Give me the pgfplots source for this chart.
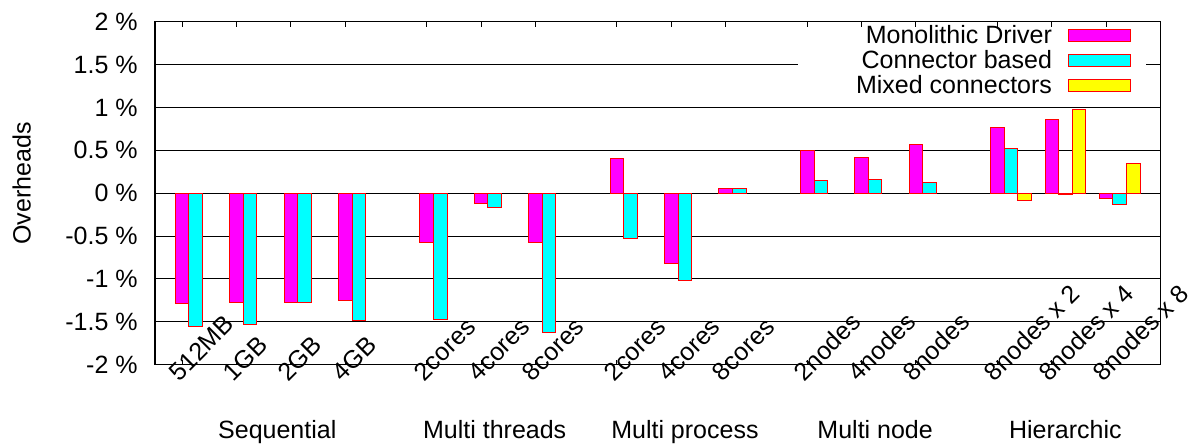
\documentclass[border=0pt]{standalone}
\usepackage{pgfplots}
\pgfplotsset{compat=1.18}
\usepackage{fontspec}
\setmainfont{Liberation Sans}
\definecolor{gmag}{RGB}{255,0,255}
\definecolor{gcyan}{RGB}{0,255,255}
\definecolor{gyellow}{RGB}{255,255,0}
\definecolor{gred}{RGB}{255,0,0}
\pgfplotsset{
  mybar/.style={ybar, bar width=0.25, draw=gred, line width=0.5pt,
    legend image code/.code={\draw[##1] (0pt,-3pt) rectangle (31pt,3pt);}},
}
\begin{document}
\fontsize{12.5}{14}\selectfont
\begin{tikzpicture}
\useasboundingbox (-77.5pt,-40.65pt) rectangle (524.5pt,182.35pt);
\begin{axis}[
  at={(0,0)}, anchor=south west,
  scale only axis, width=502.75pt, height=171.5pt,
  xmin=-0.5, xmax=18, ymin=-2, ymax=2,
  clip=false,
  xtick={0,1,2,3,4.5,5.5,6.5,8,9,10,11.5,12.5,13.5,15,16,17},
  xticklabels={512MB,1GB,2GB,4GB,2cores,4cores,8cores,2cores,4cores,8cores,2nodes,4nodes,8nodes,8nodes x 2,8nodes x 4,8nodes x 8},
  ytick={-2,-1.5,-1,-0.5,0,0.5,1,1.5,2},
  yticklabels={-2 \%,-1.5 \%,-1 \%,-0.5 \%,0 \%,0.5 \%,1 \%,1.5 \%,2 \%},
  ymajorgrids, grid style={black, line width=0.5pt, solid},
  axis line style={black, line width=0.6pt},
  tick align=inside, major tick length=2.5pt, tick style={black, line width=0.5pt},
  xtick pos=both, ytick pos=both,
  xticklabel style={xshift=-1.5pt, yshift=-8.8pt, rotate=45, anchor=base west, inner sep=0pt},
  yticklabel style={inner sep=0pt, xshift=-8.5pt},
  ylabel={Overheads},
  every axis y label/.style={at={(axis description cs:-0.1326,0.528)}, rotate=90, anchor=center},
  legend plot pos=right,
  legend cell align=right,
  legend style={at={(rel axis cs:1,1)}, anchor=north east, xshift=-14.75pt, yshift=-0.4pt,
    draw=none, fill=none, inner sep=0pt, outer sep=0pt, row sep=0pt, column sep=8pt,
    nodes={inner sep=0pt, text height=10.7pt, text depth=1.8pt}},
]
\fill[white] (axis cs:11.33,1.2) rectangle (axis cs:17.74,1.85);
\addplot[mybar, fill=gmag, bar shift=0] coordinates {
 (0,-1.29) (1,-1.276) (2,-1.27) (3,-1.256)
 (4.5,-0.574) (5.5,-0.116) (6.5,-0.57)
 (8,0.407) (9,-0.819) (10,0.058)
 (11.5,0.496) (12.5,0.419) (13.5,0.57)
 (15,0.767) (16,0.86) (17,-0.058)};
\addlegendentry{Monolithic Driver}
\addplot[mybar, fill=gcyan, bar shift=0.25] coordinates {
 (0,-1.55) (1,-1.53) (2,-1.28) (3,-1.485)
 (4.5,-1.477) (5.5,-0.163) (6.5,-1.62)
 (8,-0.528) (9,-1.02) (10,0.058)
 (11.5,0.147) (12.5,0.158) (13.5,0.12)
 (15,0.519) (16,-0.02) (17,-0.128)};
\addlegendentry{Connector based}
\addplot[mybar, fill=gyellow, bar shift=0.5] coordinates {
 (15,-0.09) (16,0.977) (17,0.349)};
\addlegendentry{Mixed connectors}
\node[anchor=base, yshift=-36.7pt] at (axis cs:1.75,-2) {Sequential};
\node[anchor=base, yshift=-36.7pt] at (axis cs:5.75,-2) {Multi threads};
\node[anchor=base, yshift=-36.7pt] at (axis cs:9.25,-2) {Multi process};
\node[anchor=base, yshift=-36.7pt] at (axis cs:12.75,-2) {Multi node};
\node[anchor=base, yshift=-36.7pt] at (axis cs:16.25,-2) {Hierarchic};
\end{axis}
\end{tikzpicture}
\end{document}
